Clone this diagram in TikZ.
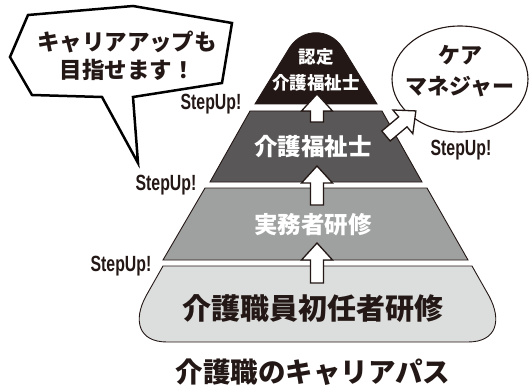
\documentclass[tikz,border=0pt]{standalone}
\usepackage{fontspec}
\usetikzlibrary{shapes.geometric}
\newfontfamily\jp{Noto Sans CJK JP}
\newfontfamily\stepf{Liberation Sans}[FakeStretch=0.72]
\definecolor{ink}{HTML}{231815}
\definecolor{tierA}{HTML}{231815}
\definecolor{tierB}{HTML}{595757}
\definecolor{tierC}{HTML}{9FA0A0}
\definecolor{tierD}{HTML}{DCDDDD}
\tikzset{
  tier/.style={draw=ink, line width=0.9pt, line join=miter},
  jptxt/.style={inner sep=0pt, text=ink},
  jpw/.style={inner sep=0pt, text=white},
  stepup/.style={inner sep=0pt, text=ink, font=\stepf\bfseries\fontsize{22}{22}\selectfont},
  arrowline/.style={draw=ink, fill=white, line width=1.3pt, line join=miter},
  bubble/.style={draw=black, fill=white, line width=2.5pt, line join=miter},
  pics/uparr/.style={code={
    \draw[arrowline] (-6.5,0) -- (-6.5,-#1) -- (-15.5,-#1) -- (0,-#1-17) -- (15.5,-#1) -- (6.5,-#1) -- (6.5,0) -- cycle;}}
}
\begin{document}
\begin{tikzpicture}[x=1pt,y=-1pt]
\useasboundingbox (0,0) rectangle (530,385);
% speech bubble
\draw[bubble] (28,15) -- (133,6) -- (232,23) -- (222,83) -- (133,97) -- (138,163) -- (102,97) -- (32,95) -- (10,57) -- cycle;
\node[jptxt, font=\jp\bfseries\fontsize{22.5}{22.5}\selectfont] (b1) at (127,42) {キャリアアップも};
\node[jptxt, font=\jp\bfseries\fontsize{22.5}{22.5}\selectfont] (b2) at (127,70) {目指せます！};
% tiers
\draw[tier, fill=tierD] (163,266) -- (472,266) -- (489,296) .. controls (502,320) and (497,342) .. (468,342) -- (167,342) .. controls (138,342) and (133,320) .. (146,296) -- cycle;
\draw[tier, fill=tierC] (205,188) -- (427,188) -- (468,260) -- (163,260) -- cycle;
\draw[tier, fill=tierB] (250,111) -- (382,111) -- (422,182) -- (210,182) -- cycle;
\draw[tier, fill=tierA] (255,104) -- (290,47) .. controls (303,28) and (329,28) .. (342,47) -- (377,104) -- cycle;
% tier texts
\node[jpw, font=\jp\bfseries\fontsize{17.5}{17.5}\selectfont] (t1a) at (316,57) {認定};
\node[jpw, font=\jp\bfseries\fontsize{17.5}{17.5}\selectfont] (t1b) at (316,83) {介護福祉士};
\node[jpw, font=\jp\bfseries\fontsize{23.5}{23.5}\selectfont] (t2) at (313,147) {介護福祉士};
\node[jpw, font=\jp\bfseries\fontsize{23.5}{23.5}\selectfont] (t3) at (313,225) {実務者研修};
\node[jptxt, font=\jp\bfseries\fontsize{29}{29}\selectfont] (t4) at (313,309) {介護職員初任者研修};
\node[jptxt, font=\jp\bfseries\fontsize{27.5}{27.5}\selectfont] (title) at (313,372) {介護職のキャリアパス};
% care manager
\node[ellipse, draw=ink, line width=1.1pt, fill=white, minimum width=136pt, minimum height=106pt, inner sep=0pt] (cm) at (460,79) {};
\node[jptxt, font=\jp\bfseries\fontsize{22}{22}\selectfont] (cm1) at (460,55) {ケア};
\node[jptxt, font=\jp\bfseries\fontsize{22}{22}\selectfont] (cm2) at (460,87) {マネジャー};
% arrows
\coordinate (a1) at (317,122);
\coordinate (a2) at (317,205);
\coordinate (a3) at (317,283);
\coordinate (a4) at (386,136);
\pic at (a1) {uparr=11};
\pic at (a2) {uparr=22};
\pic at (a3) {uparr=23};
\pic[rotate=-50] at (a4) {uparr=22};
% step up labels
\node[stepup] (s1) at (211,104) {StepUp!};
\node[stepup] (s2) at (166,185) {StepUp!};
\node[stepup] (s3) at (121,266) {StepUp!};
\node[stepup] (s4) at (461,150) {StepUp!};
\end{tikzpicture}
\end{document}
